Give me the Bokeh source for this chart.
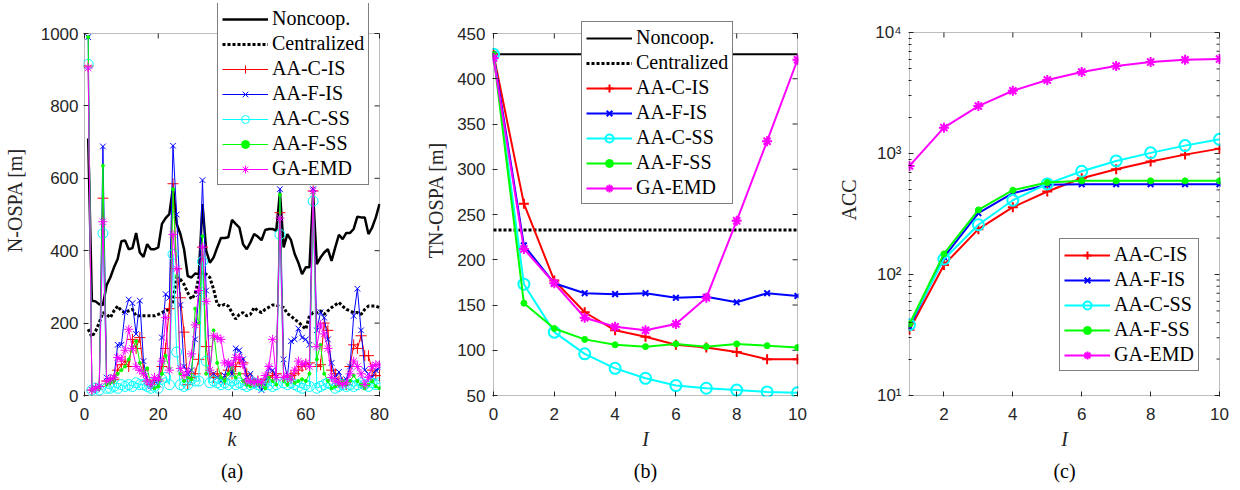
from bokeh.plotting import figure
from bokeh.models import FixedTicker, Legend, LegendItem, Title, Range1d, BoxAnnotation
from bokeh.layouts import row
from bokeh.embed import file_html
from bokeh.resources import INLINE

# ---------------- data: panel (a) ----------------
k_a = list(range(1, 81))
noncoop_a = [710, 262, 260, 252, 250, 305, 326, 354, 377, 426,
             428, 404, 407, 449, 395, 383, 418, 404, 404, 409,
             474, 490, 501, 575, 474, 446, 404, 330, 326, 337,
             335, 529, 400, 367, 381, 409, 435, 435, 437, 485,
             474, 464, 418, 404, 423, 446, 439, 429, 457, 460,
             460, 455, 561, 409, 446, 429, 391, 367, 335, 354,
             354, 557, 363, 381, 395, 404, 372, 409, 444, 432,
             449, 449, 460, 494, 492, 492, 446, 464, 492, 529]
central_a = [183, 162, 178, 201, 229, 224, 215, 234, 247, 234,
             229, 234, 238, 220, 220, 220, 220, 220, 220, 224,
             229, 234, 238, 261, 326, 321, 307, 284, 266, 280,
             326, 340, 335, 326, 294, 252, 247, 252, 247, 229,
             211, 224, 229, 220, 224, 243, 234, 229, 238, 244,
             250, 250, 245, 243, 226, 220, 210, 203, 193, 183,
             220, 229, 229, 234, 224, 234, 243, 250, 257, 247,
             238, 234, 229, 229, 224, 238, 247, 247, 247, 243]
aacis_a = [910, 15, 20, 25, 545, 40, 40, 45, 70, 85,
           95, 80, 155, 130, 160, 70, 40, 30, 40, 40,
           80, 130, 240, 585, 350, 270, 175, 30, 50, 60,
           100, 410, 135, 60, 50, 60, 50, 45, 70, 60,
           80, 100, 90, 60, 40, 35, 40, 30, 45, 50,
           55, 60, 505, 50, 50, 55, 60, 70, 80, 85,
           90, 565, 80, 85, 200, 180, 70, 60, 40, 35,
           30, 80, 140, 130, 165, 110, 110, 70, 55, 55]
aafis_a = [990, 15, 20, 25, 688, 50, 40, 50, 140, 140,
           230, 265, 255, 170, 262, 95, 40, 25, 40, 30,
           160, 280, 270, 690, 500, 250, 80, 60, 70, 155,
           280, 595, 290, 70, 60, 50, 40, 55, 90, 60,
           130, 125, 100, 50, 60, 40, 30, 15, 30, 75,
           70, 50, 570, 100, 50, 150, 155, 185, 160, 155,
           140, 570, 180, 230, 215, 155, 90, 50, 65, 40,
           45, 80, 220, 295, 180, 70, 60, 50, 70, 75]
aacss_a = [915, 15, 20, 15, 448, 20, 20, 25, 20, 30,
           25, 30, 25, 35, 30, 30, 25, 20, 25, 20,
           45, 50, 30, 390, 120, 30, 25, 30, 45, 40,
           40, 370, 95, 35, 40, 35, 30, 35, 30, 40,
           30, 35, 30, 25, 30, 35, 30, 25, 35, 30,
           25, 30, 445, 35, 30, 35, 30, 25, 20, 30,
           25, 537, 20, 25, 30, 35, 30, 20, 25, 30,
           25, 30, 25, 30, 35, 30, 25, 35, 30, 35]
aafss_a = [990, 15, 20, 20, 635, 30, 35, 40, 60, 70,
           80, 100, 130, 150, 90, 60, 75, 30, 20, 25,
           60, 110, 75, 570, 330, 60, 40, 50, 45, 240,
           200, 440, 60, 70, 180, 90, 50, 40, 60, 80,
           50, 60, 40, 30, 25, 40, 30, 30, 20, 50,
           40, 30, 555, 40, 30, 50, 35, 40, 45, 40,
           60, 560, 100, 140, 60, 40, 20, 25, 30, 40,
           30, 40, 55, 40, 30, 20, 30, 40, 25, 20]
gaemd_a = [905, 15, 20, 25, 480, 40, 45, 50, 105, 100,
           125, 183, 130, 80, 70, 60, 40, 30, 50, 45,
           95, 215, 70, 445, 350, 75, 55, 65, 115, 195,
           290, 410, 260, 70, 165, 160, 155, 90, 90, 85,
           105, 105, 85, 40, 40, 35, 40, 35, 55, 80,
           155, 50, 490, 50, 55, 45, 70, 95, 85, 90,
           80, 565, 135, 195, 170, 130, 50, 40, 35, 30,
           35, 60, 95, 80, 60, 30, 50, 80, 85, 85]

# ---------------- data: panel (b) ----------------
I_b = [0, 1, 2, 3, 4, 5, 6, 7, 8, 9, 10]
noncoop_b = [427, 427, 427, 427, 427, 427, 427, 427, 427, 427, 427]
central_b = [233, 233, 233, 233, 233, 233, 233, 233, 233, 233, 233]
aacis_b = [427, 262, 177, 142, 122, 115, 106, 103, 98, 90, 90]
aafis_b = [427, 216, 174, 163, 162, 163, 158, 159, 153, 163, 160]
aacss_b = [427, 173, 120, 96, 80, 69, 61, 58, 56, 54, 53]
aafss_b = [427, 152, 124, 112, 106, 104, 107, 104, 107, 105, 103]
gaemd_b = [423, 212, 174, 136, 126, 122, 129, 158, 243, 331, 421]

# ---------------- data: panel (c) ----------------
I_c = [1, 2, 3, 4, 5, 6, 7, 8, 9, 10]
aacis_c = [35, 120, 237, 360, 485, 625, 741, 858, 979, 1097]
aafis_c = [37, 139, 321, 470, 551, 557, 557, 557, 557, 557]
aacss_c = [38.5, 134, 258, 411, 561, 713, 868, 1012, 1162, 1310]
aafss_c = [39, 148, 342, 497, 575, 594, 594, 594, 594, 594]
gaemd_c = [790, 1636, 2467, 3303, 4045, 4707, 5277, 5693, 5950, 6026]

# tick values
xt_a = [0, 20, 40, 60, 80]
yt_a = [0, 200, 400, 600, 800, 1000]
xt_b = [0, 2, 4, 6, 8, 10]
yt_b = [50, 100, 150, 200, 250, 300, 350, 400, 450]
xt_c = [2, 4, 6, 8, 10]
yt_c = [10, 100, 1000, 10000]
ylab_c = ["10¹", "10²", "10³", "10⁴"]

labels = ["AA-C-IS", "AA-F-IS", "AA-C-SS", "AA-F-SS", "GA-EMD"]
colors = ["#FF0000", "#0000FF", "#00FFFF", "#00FF00", "#FF00FF"]

DARK = "#262626"
SANS = "Liberation Sans"
SERIF = "Liberation Serif"
TICK = 5
H = 490
TOP = 3        # frame top (all three frames are aligned by the row)
BOTTOM = 94    # space below the frames
PAD_TOP = 30   # frame area kept above each axes box (room for the legends)


def lin_range(v0, v1, px_len, pad_lo, pad_hi):
    s = (v1 - v0) / px_len
    return Range1d(v0 - pad_lo * s, v1 + pad_hi * s)


def log_range(d0, d1, px_len, pad_lo, pad_hi):
    s = (d1 - d0) / px_len
    return Range1d(10 ** (d0 - pad_lo * s), 10 ** (d1 + pad_hi * s))


def style_axis(ax, standoff):
    ax.axis_line_color = None
    ax.major_tick_line_color = DARK
    ax.major_tick_in = TICK
    ax.major_tick_out = 0
    ax.minor_tick_in = 0
    ax.minor_tick_out = 0
    ax.major_label_text_font = SANS
    ax.major_label_text_font_size = "17px"
    ax.major_label_text_color = DARK
    ax.major_label_standoff = standoff
    ax.axis_label_text_font = SERIF
    ax.axis_label_text_font_size = "20px"
    ax.axis_label_text_color = DARK
    ax.axis_label_text_font_style = "normal"


def make_legend(items, loc, spacing=2, padding=4):
    lg = Legend(items=items, location=loc)
    lg.label_text_font = SERIF
    lg.label_text_font_size = "20px"
    lg.label_text_color = "black"
    lg.glyph_width = 46
    lg.glyph_height = 20
    lg.label_height = 20
    lg.spacing = spacing
    lg.padding = padding
    lg.margin = 0
    lg.label_standoff = 4
    lg.border_line_color = "black"
    lg.border_line_width = 1
    lg.background_fill_color = "white"
    lg.background_fill_alpha = 1
    return lg


def add_caption(p, txt):
    t = Title(text=txt, align="center", text_font=SERIF, text_font_size="20px",
              text_font_style="normal", text_color="black", standoff=11)
    p.add_layout(t, "below")


def series(p, x, y, i, lw, big):
    c = colors[i]
    ln = p.line(x, y, line_color=c, line_width=lw)
    if i == 0:
        m = p.scatter(x, y, marker="cross", size=10 if big else 11, line_color=c, line_width=lw)
    elif i == 1:
        m = p.scatter(x, y, marker="x", size=8, line_color=c, line_width=lw)
    elif i == 2:
        m = p.scatter(x, y, marker="circle", size=11 if big else 10, line_color=c, fill_color=None, line_width=lw)
    elif i == 3:
        m = p.scatter(x, y, marker="circle", size=6 if big else 3, line_color=c, fill_color=c, line_width=1)
    else:
        m = p.scatter(x, y, marker="asterisk", size=10 if big else 9, line_color=c, line_width=lw)
    return LegendItem(label=labels[i], renderers=[ln, m])


def base_fig(width, left, right, xr, yr, xt, yt, xb, yb, xlabel, ylabel, ystand, lstand, y_type="linear"):
    p = figure(width=width, height=H, x_range=xr, y_range=yr, y_axis_type=y_type,
               title=None, tools="", output_backend="svg", toolbar_location=None,
               min_border_left=left, min_border_right=right,
               min_border_top=TOP, min_border_bottom=BOTTOM)
    p.grid.visible = False
    p.outline_line_color = None
    p.background_fill_color = "white"
    p.border_fill_color = "white"
    ax_x, ax_y = p.below[0], p.left[0]
    ax_x.ticker = FixedTicker(ticks=xt)
    ax_y.ticker = FixedTicker(ticks=yt)
    style_axis(ax_x, 11)
    style_axis(ax_y, ystand)
    ax_x.bounds = xb
    ax_y.bounds = yb
    ax_x.axis_label = xlabel
    ax_x.axis_label_text_font_style = "italic"
    ax_x.axis_label_standoff = 5
    ax_y.axis_label = ylabel
    ax_y.axis_label_standoff = lstand
    # the axes box
    p.add_layout(BoxAnnotation(left=xb[0], right=xb[1], bottom=yb[0], top=yb[1],
                               fill_color=None, line_color=DARK, line_width=1))
    return p, ax_x, ax_y


def box_ticks(p, xt, yt, x1, y1, dx, top_y_end):
    # ticks on the top and right sides of the box (inward)
    p.segment(x0=xt, y0=[y1] * len(xt), x1=xt, y1=[top_y_end] * len(xt),
              line_color=DARK, line_width=1)
    p.segment(x0=[x1] * len(yt), y0=yt, x1=[x1 - dx] * len(yt), y1=yt,
              line_color=DARK, line_width=1)


# ---------------- panel (a) ----------------
pa, xa, ya = base_fig(420, 81, 40, lin_range(0, 80, 297, 1, 1), lin_range(0, 1000, 362, 1, PAD_TOP),
                      xt_a, yt_a, (0, 80), (0, 1000), "k", "N-OSPA [m]", 5, 12)
box_ticks(pa, xt_a, yt_a, 80, 1000, TICK * 80 / 297, 1000 - TICK * 1000 / 362)
r1 = pa.line(k_a, noncoop_a, line_color="black", line_width=2.5)
r2 = pa.line(k_a, central_a, line_color="black", line_width=3, line_dash="3 2")
items_a = [LegendItem(label="Noncoop.", renderers=[r1]), LegendItem(label="Centralized", renderers=[r2])]
for i, ys in enumerate([aacis_a, aafis_a, aacss_a, aafss_a, gaemd_a]):
    items_a.append(series(pa, k_a, ys, i, 1, False))
pa.add_layout(make_legend(items_a, (134, 211)))
add_caption(pa, "(a)")

# ---------------- panel (b) ----------------
pb, xb_, yb_ = base_fig(415, 72, 37, lin_range(0, 10, 304, 1, 1), lin_range(50, 450, 362, 1, PAD_TOP),
                        xt_b, yt_b, (0, 10), (50, 450), "I", "TN-OSPA [m]", 7, 7)
box_ticks(pb, xt_b, yt_b, 10, 450, TICK * 10 / 304, 450 - TICK * 400 / 362)
s1 = pb.line(I_b, noncoop_b, line_color="black", line_width=2)
s2 = pb.line(I_b, central_b, line_color="black", line_width=3, line_dash="3 2")
items_b = [LegendItem(label="Noncoop.", renderers=[s1]), LegendItem(label="Centralized", renderers=[s2])]
for i, ys in enumerate([aacis_b, aafis_b, aacss_b, aafss_b, gaemd_b]):
    items_b.append(series(pb, I_b, ys, i, 2, True))
pb.add_layout(make_legend(items_b, (89, 192)))
add_caption(pb, "(b)")

# ---------------- panel (c) ----------------
pc, xc, yc = base_fig(405, 69, 20, lin_range(1, 10, 314, 1, 1), log_range(1, 4, 363, 1, PAD_TOP - 1),
                      xt_c, yt_c, (1, 10), (10, 10000), "I", "ACC", 7, 12, y_type="log")
minors = [m * d for d in (10, 100, 1000) for m in range(2, 10)]
yc.ticker = FixedTicker(ticks=yt_c, minor_ticks=minors)
yc.minor_tick_in = 3
yc.minor_tick_out = 0
yc.minor_tick_line_color = DARK
yc.major_label_overrides = dict(zip(yt_c, ylab_c))
box_ticks(pc, xt_c, yt_c, 10, 10000, TICK * 9 / 314, 10000 / 10 ** (TICK * 3 / 363))
pc.segment(x0=[10] * len(minors), y0=minors, x1=[10 - 3 * 9 / 314] * len(minors), y1=minors,
           line_color=DARK, line_width=1)
items_c = []
for i, ys in enumerate([aacis_c, aafis_c, aacss_c, aafss_c, gaemd_c]):
    items_c.append(series(pc, I_c, ys, i, 2, True))
pc.add_layout(make_legend(items_c, (151, 25), spacing=2, padding=4))
add_caption(pc, "(c)")

layout = row(pa, pb, pc)
open("out.html", "w").write(file_html(layout, INLINE))
